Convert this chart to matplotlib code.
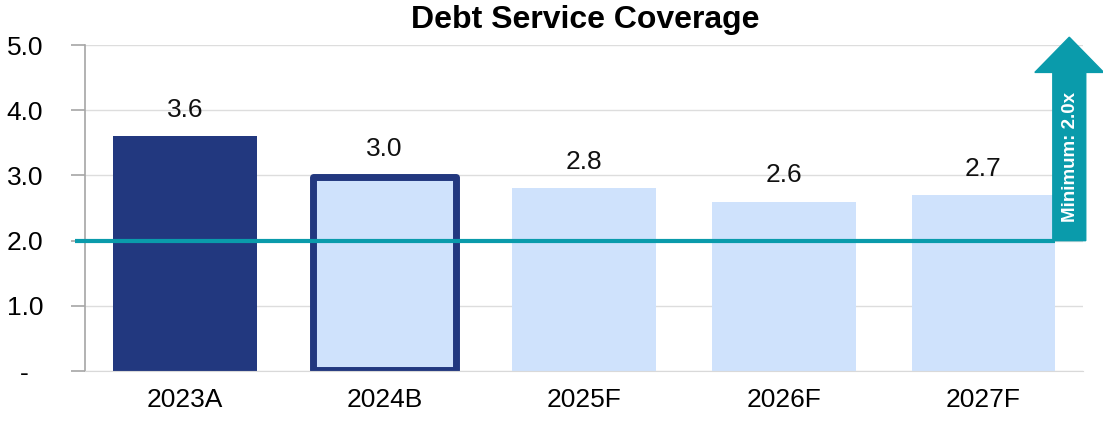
import numpy as np
import matplotlib.pyplot as plt
import matplotlib.patches as mpatches

categories = ['2023A', '2024B', '2025F', '2026F', '2027F']
coverage = [3.6, 3.0, 2.8, 2.6, 2.7]
minimum = 2.0
ytick_vals = [0, 1, 2, 3, 4, 5]
ytick_labels = ['-  ', '1.0', '2.0', '3.0', '4.0', '5.0']

navy = '#22387f'
light = '#cfe2fc'
teal = '#0a9bab'

plt.rcParams['font.family'] = ['Liberation Sans', 'DejaVu Sans']

fig = plt.figure(figsize=(11.03, 4.33), dpi=100)
ax = fig.add_axes([0.0771, 0.143, 0.905, 0.753])

ind = np.arange(len(categories))
width = 0.72
colors = [navy] + [light] * (len(categories) - 1)
bars = ax.bar(ind, coverage, width, color=colors, zorder=2)
# budget bar gets a heavy navy outline
bars[1].set_edgecolor(navy)
bars[1].set_linewidth(5)
bars[1].set_joinstyle('round')
bars[1].set_height(coverage[1] - 0.04)
bars[1].set_y(0.02)

for i, v in enumerate(coverage):
    ax.text(i, v + 0.22, '{:.1f}'.format(v), ha='center', va='bottom', fontsize=19, color='#111111')

# minimum threshold line
ax.plot([-0.55, 4.36], [minimum, minimum], color=teal, lw=3, zorder=3, clip_on=False,
        solid_capstyle='butt')

arrow = mpatches.FancyArrow(4.43, minimum, 0, 3.12, width=0.165, head_width=0.345,
                            head_length=0.54, length_includes_head=True,
                            color=teal, zorder=4, clip_on=False)
ax.add_patch(arrow)
ax.text(4.435, 3.28, 'Minimum: 2.0x', rotation=90, ha='center', va='center',
        color='white', fontsize=13.5, fontweight='bold', zorder=5)

ax.set_xlim(-0.5, 4.5)
ax.set_ylim(0, 5)
ax.set_xticks(ind)
ax.set_xticklabels(categories, fontsize=19)
ax.set_yticks(ytick_vals)
ax.set_yticklabels(ytick_labels, fontsize=19)
ax.tick_params(axis='x', length=0, pad=12)
ax.tick_params(axis='y', length=10, width=1.2, color='#a6a6a6', pad=20)
ax.grid(axis='y', color='#dddddd', lw=1, zorder=0)
ax.set_axisbelow(True)
for s in ['top', 'right']:
    ax.spines[s].set_visible(False)
ax.spines['left'].set_color('#a6a6a6')
ax.spines['left'].set_linewidth(1.2)
ax.spines['bottom'].set_color('#d9d9d9')

fig.text(0.531, 0.953, 'Debt Service Coverage', ha='center', va='center',
         fontsize=23, fontweight='bold')

fig.savefig('out.png', dpi=100)
